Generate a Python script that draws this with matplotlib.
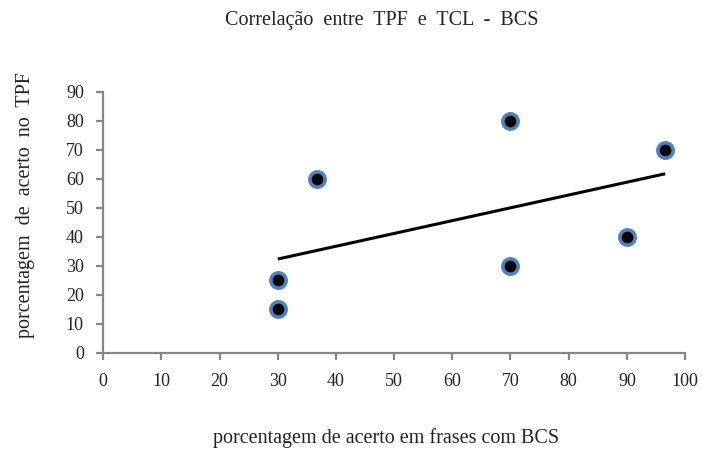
import numpy as np
import matplotlib
matplotlib.use("Agg")
import matplotlib.pyplot as plt

plt.rcParams['font.family'] = ['Liberation Serif', 'DejaVu Serif']

x_vals = [30, 30, 36.7, 70, 70, 90, 96.6]
y_vals = [25, 15, 60, 80, 30, 40, 70]
x_ticks = [0, 10, 20, 30, 40, 50, 60, 70, 80, 90, 100]
y_ticks = [0, 10, 20, 30, 40, 50, 60, 70, 80, 90]
title = "Correlação  entre  TPF  e  TCL  -  BCS"
xlabel = "porcentagem de acerto em frases com BCS"
ylabel = "porcentagem  de  acerto  no  TPF"

W, H = 704, 449
fig = plt.figure(figsize=(W / 100, H / 100), dpi=100)
ax = fig.add_axes([103.3 / W, 1 - 352.5 / H, (685 - 103.3) / W, (352.5 - 91.7) / H])

axis_col = '#868686'
slope, intercept = np.polyfit(x_vals, y_vals, 1)
xs = np.array([min(x_vals), max(x_vals)])
ax.plot(xs, slope * xs + intercept, color='black', lw=2.2, zorder=2, solid_capstyle='butt')
ax.plot(x_vals, y_vals, 'o', ms=11, mfc='black', mec='#4F81BD', mew=2.6, zorder=3, clip_on=False)

ax.set_xlim(0, 100)
ax.set_ylim(0, 90)
ax.set_xticks(x_ticks)
ax.set_yticks(y_ticks)
ax.set_xticklabels([str(v) for v in x_ticks])
ax.set_yticklabels([str(v) for v in y_ticks])
for s in ['top', 'right']:
    ax.spines[s].set_visible(False)
for s in ['left', 'bottom']:
    ax.spines[s].set_color(axis_col)
    ax.spines[s].set_linewidth(1.6)
ax.tick_params(axis='both', colors=axis_col, length=5, width=1.6, labelsize=13,
               labelcolor='#222222', direction='out')
ax.tick_params(axis='x', pad=10)
ax.tick_params(axis='y', pad=9)

fig.text(382 / W, 1 - 20 / H, title, ha='center', va='center', fontsize=14.5, color='#222222')
fig.text(386 / W, 1 - 438 / H, xlabel, ha='center', va='center', fontsize=14.5, color='#222222')
fig.text(26 / W, 1 - 205 / H, ylabel, ha='center', va='center', rotation=90, fontsize=14.5, color='#222222')

fig.savefig('out.png', dpi=100)
